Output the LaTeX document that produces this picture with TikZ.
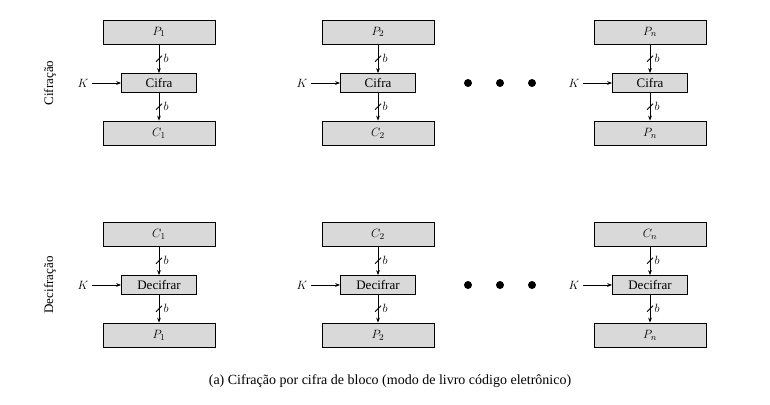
\documentclass[tikz,border=0pt]{standalone}
\usepackage{fontspec}
\setmainfont{Liberation Serif}
\usetikzlibrary{positioning,arrows.meta,calc}

\begin{document}
\begin{tikzpicture}[x = 1pt, y = -1pt, font = \fontsize{13}{15}\selectfont,
  blk/.style = {draw, thick, fill = black!15, minimum width = 112pt, minimum height = 24pt, inner sep = 0pt},
  op/.style = {draw, thick, fill = black!15, minimum width = 75pt, minimum height = 19pt, inner sep = 0pt},
  arr/.style = {thick, -{Stealth[length = 5pt]}}]
  \useasboundingbox (0, 0) rectangle (770, 404);

  \node[rotate = 90] (Lc) at (50, 83) {Cifração};
  \node[rotate = 90] (Ld) at (50, 285) {Decifração};

  \foreach \cx/\id/\pa/\pb/\pc/\pd in {159/1/P_1/C_1/C_1/P_1, 378/2/P_2/C_2/C_2/P_2, 650/3/P_n/P_n/C_n/P_n} {
    % cifra
    \node[blk] (In\id) at (\cx, 32) {$\pa$};
    \node[op] (Op\id) at (\cx, 83) {Cifra};
    \node[blk] (Out\id) at (\cx, 133) {$\pb$};
    \node (K\id) at (\cx - 76, 83) {$K$};
    % decifra
    \node[blk] (DIn\id) at (\cx, 234) {$\pc$};
    \node[op] (DOp\id) at (\cx, 285) {Decifrar};
    \node[blk] (DOut\id) at (\cx, 335) {$\pd$};
    \node (DK\id) at (\cx - 76, 285) {$K$};

    \draw[arr] (K\id) -- (Op\id);
    \draw[arr] (DK\id) -- (DOp\id);
    \foreach \a/\b in {In\id/Op\id, Op\id/Out\id, DIn\id/DOp\id, DOp\id/DOut\id} {
      \draw[arr] (\a) -- (\b) node[midway, right = 1pt] {$b$};
      \draw[thick] ($(\a.south)!0.5!(\b.north) + (-3, 3)$) -- ++(6, -6);
    }
  }

  \foreach \dx in {468, 500, 532} {
    \fill (\dx, 83) circle (4);
    \fill (\dx, 285) circle (4);
  }

  \node[font = \fontsize{14}{16}\selectfont] (cap) at (390, 381) {(a) Cifração por cifra de bloco (modo de livro código eletrônico)};
\end{tikzpicture}
\end{document}
